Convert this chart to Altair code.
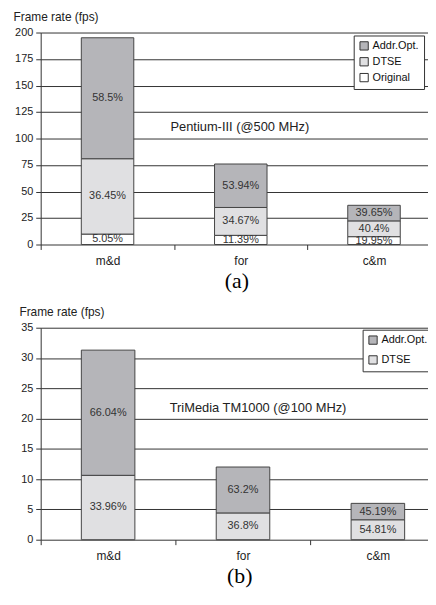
import altair as alt
import pandas as pd

cats = ["m&d", "for", "c&m"]

# Panel (a): Pentium-III
series_a = ["Original", "DTSE", "Addr.Opt."]
orig_a = [9.85, 8.66, 7.4]
dtse_a = [71.1, 26.3, 14.9]
addr_a = [114.1, 41.0, 14.7]
orig_a_lbl = ["5.05%", "11.39%", "19.95%"]
dtse_a_lbl = ["36.45%", "34.67%", "40.4%"]
addr_a_lbl = ["58.5%", "53.94%", "39.65%"]
yticks_a = [0, 25, 50, 75, 100, 125, 150, 175, 200]

# Panel (b): TriMedia
series_b = ["DTSE", "Addr.Opt."]
dtse_b = [10.63, 4.42, 3.29]
addr_b = [20.67, 7.58, 2.71]
dtse_b_lbl = ["33.96%", "36.8%", "54.81%"]
addr_b_lbl = ["66.04%", "63.2%", "45.19%"]
yticks_b = [0, 5, 10, 15, 20, 25, 30, 35]

fill_map = {"Addr.Opt.": "#b5b5b9", "DTSE": "#e0e0e2", "Original": "#ffffff"}
FONT = "Liberation Sans"


def build(series, values, labels):
    rows = []
    for ci, c in enumerate(cats):
        base = 0.0
        for si, s in enumerate(series):
            v = values[si][ci]
            rows.append(dict(cat=c, series=s, idx=si, value=v,
                             mid=base + v / 2, label=labels[si][ci]))
            base += v
    return pd.DataFrame(rows)


def panel(df, legend_domain, yvals, ymax, width, step, p_in, p_out, p_align, note,
          note_y, note_dx, caption, title_x, legend_x, legend_y, row_pad):
    xscale = alt.Scale(domain=cats, paddingInner=p_in, paddingOuter=p_out, align=p_align)
    xaxis = alt.Axis(title=caption, titleFont="Liberation Serif", titleFontSize=22,
                     titleFontWeight="normal", titleColor="black", titlePadding=4,
                     labelAngle=0, labelFontSize=12, labelPadding=6, labelColor="#222",
                     tickSize=5, tickColor="#333", tickOffset=-step / 2,
                     labelOffset=step / 2, domain=False)
    yscale = alt.Scale(domain=[0, ymax], nice=False)
    yaxis = alt.Axis(values=yvals, labelOverlap=False, title="Frame rate (fps)", titleAngle=0,
                     titleAlign="left", titleBaseline="middle", titleX=title_x,
                     titleY=-16, titleFontSize=12, titleFontWeight="normal",
                     titleColor="#222", grid=True, gridColor="#333",
                     labelFontSize=11, labelColor="#222", labelPadding=3,
                     tickSize=5, tickColor="#333", domainColor="#333")
    colors = [fill_map[s] for s in legend_domain]
    base = alt.Chart(df)
    bars = base.mark_bar(stroke="#444", strokeWidth=1).encode(
        x=alt.X("cat:N", scale=xscale, axis=xaxis),
        y=alt.Y("value:Q", stack="zero", scale=yscale, axis=yaxis),
        color=alt.Color("series:N", scale=alt.Scale(domain=legend_domain, range=colors),
                        legend=alt.Legend(orient="none", legendX=legend_x, legendY=legend_y,
                                          title=None, symbolType="square", symbolSize=70,
                                          symbolStrokeColor="#333", symbolStrokeWidth=1,
                                          labelFontSize=11, labelColor="#111", labelFont=FONT,
                                          strokeColor="#333", fillColor="white",
                                          padding=5, rowPadding=row_pad, labelOffset=3)),
        order=alt.Order("idx:Q", sort="ascending"),
    )
    texts = base.mark_text(fontSize=11, color="#333", font=FONT).encode(
        x=alt.X("cat:N", scale=xscale, axis=xaxis),
        y=alt.Y("mid:Q", scale=yscale, axis=yaxis),
        text="label:N",
    )
    note_df = pd.DataFrame({"t": [note]})
    ann = alt.Chart(note_df).mark_text(align="left", fontSize=13, color="#222",
                                       font=FONT, dx=note_dx).encode(
        x=alt.X("t2:N", scale=xscale, axis=xaxis),
        y=alt.Y("v:Q", scale=yscale, axis=yaxis),
        text="t:N",
    ).transform_calculate(t2="'for'", v=str(note_y))
    return alt.layer(bars, texts, ann).properties(width=width, height=214)


df_a = build(series_a, [orig_a, dtse_a, addr_a], [orig_a_lbl, dtse_a_lbl, addr_a_lbl])
df_b = build(series_b, [dtse_b, addr_b], [dtse_b_lbl, addr_b_lbl])

top = panel(df_a, ["Addr.Opt.", "DTSE", "Original"], yticks_a, 200, 395, 134.5,
            0.606, 0.2714, 0.5616,
            "Pentium-III (@500 MHz)", 111, -71, "(a)", -28, 316, 3, 3)
bottom = panel(df_b, ["Addr.Opt.", "DTSE"], yticks_b, 35, 401, 136.0,
               0.603, 0.274, 0.55,
               "TriMedia TM1000 (@100 MHz)", 21.7, -74, "(b)", -22, 325, 2, 7)

chart = alt.vconcat(top, bottom, spacing=15).resolve_scale(
    color="independent", x="independent", y="independent"
).resolve_legend(color="independent").properties(
    padding={"left": 5, "top": 0, "right": -10, "bottom": 0}
).configure(font=FONT).configure_view(strokeWidth=0)

chart.save("out.html", embed_options={"renderer": "svg", "actions": False})
